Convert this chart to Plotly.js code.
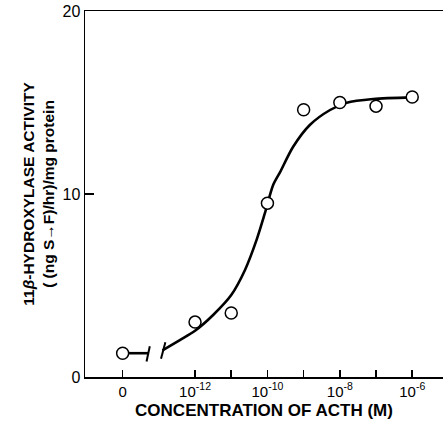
<!DOCTYPE html>
<html><head><meta charset="utf-8">
<script src="https://cdn.plot.ly/plotly-3.0.1.min.js"></script>
<style>html,body{margin:0;padding:0;background:#fff}#c{width:443px;height:428px}</style>
</head><body><div id="c"></div>
<script>
// x positions are log10 of ACTH concentration (M); the "0" concentration is drawn at -14 after an axis break
const ZERO_POS = -14;
const tickPos = [ZERO_POS, -12, -11, -10, -9, -8, -7, -6];
const tickLabels = ['0', '10<sup>-12</sup>', '', '10<sup>-10</sup>', '', '10<sup>-8</sup>', '', '10<sup>-6</sup>'];
const pointX = [ZERO_POS, -12, -11, -10, -9, -8, -7, -6];
const activity = [1.3, 3.0, 3.5, 9.5, 14.6, 15.0, 14.8, 15.3];
const curveX = [-12.90, -12.42, -12.0, -11.5, -11.0, -10.62, -10.30, -10.07, -9.84, -9.65, -9.29, -8.83, -8.27, -7.81, -7.08, -6.0];
const curveY = [1.45, 2.02, 2.53, 3.39, 4.48, 5.85, 7.49, 8.95, 10.5, 11.2, 12.58, 13.77, 14.59, 14.99, 15.19, 15.28];
const breakEnd = -13.3;   // end of the segment from the zero point
const breakStart = -12.88; // start of the fitted curve

const F = 'Liberation Sans, Arial, Helvetica, sans-serif';
const traces = [
  {x: curveX, y: curveY, mode: 'lines', line: {color: '#000', width: 2.6, shape: 'spline', smoothing: 0.8}, hoverinfo: 'skip'},
  {x: [pointX[0], breakEnd], y: [activity[0], activity[0]], mode: 'lines', line: {color: '#000', width: 2.6}, hoverinfo: 'skip'},
  {x: pointX, y: activity, mode: 'markers', marker: {symbol: 'circle', size: 12, color: '#fff', line: {color: '#000', width: 1.5}}}
];
const shapes = [
  {type: 'line', xref: 'x', yref: 'y', x0: breakEnd - 0.04, y0: activity[0] - 0.45, x1: breakEnd + 0.05, y1: activity[0] + 0.38, line: {color: '#000', width: 2}},
  {type: 'line', xref: 'x', yref: 'y', x0: breakStart - 0.06, y0: curveY[0] - 0.45, x1: breakStart + 0.06, y1: curveY[0] + 0.45, line: {color: '#000', width: 2}}
];
const layout = {
  width: 443, height: 428,
  margin: {l: 85, r: 0, t: 11, b: 51},
  paper_bgcolor: '#fff', plot_bgcolor: '#fff',
  showlegend: false,
  font: {family: F, color: '#000'},
  xaxis: {
    range: [-15.04, -5.15], showgrid: false, zeroline: false,
    showline: true, linecolor: '#000', linewidth: 1.5, mirror: true,
    tickmode: 'array', tickvals: tickPos, ticktext: tickLabels,
    ticks: 'inside', ticklen: 7, tickwidth: 1.5, tickcolor: '#000',
    tickfont: {family: F, size: 15, color: '#000'},
    title: {text: '<b>CONCENTRATION OF ACTH (M)</b>', font: {family: F, size: 17, color: '#000'}, standoff: 5}
  },
  yaxis: {
    range: [0, 20], showgrid: false, zeroline: false,
    showline: true, linecolor: '#000', linewidth: 1.5,
    tickmode: 'array', tickvals: [0, 10, 20], ticktext: ['0', '10', '20'],
    ticks: 'inside', ticklen: 9, tickwidth: 1.5, tickcolor: '#000',
    tickfont: {family: F, size: 16, color: '#000'},
    title: {text: '<b>11<i>β</i>-HYDROXYLASE ACTIVITY<br>( (ng S→F)/hr)/mg protein</b>', font: {family: F, size: 15.5, color: '#000'}, standoff: 4}
  },
  shapes: shapes
};
Plotly.newPlot('c', traces, layout, {displayModeBar: false, staticPlot: true});
</script></body></html>
